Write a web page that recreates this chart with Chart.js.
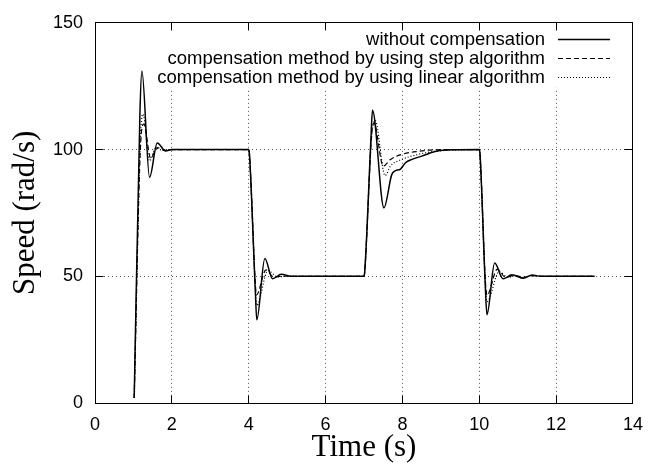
<!DOCTYPE html>
<html>
<head>
<meta charset="utf-8">
<script src="https://cdn.jsdelivr.net/npm/chart.js@4.4.0/dist/chart.umd.min.js"></script>
<style>
  html, body { margin: 0; padding: 0; background: #fff; }
  canvas { display: block; }
</style>
</head>
<body>
<canvas id="speedChart" width="654" height="466"></canvas>
<script>
// values (time in s, speed in rad/s)
const tWithout = [1.02, 1.17, 1.22, 1.42, 1.62, 1.84, 2.0, 4.0, 4.02, 4.17, 4.21, 4.42, 4.62, 4.85, 5.1,
  7.0, 7.02, 7.18, 7.22, 7.52, 7.72, 7.8, 7.95, 8.08, 8.25, 8.5, 8.85, 9.3, 10.0,
  10.02, 10.16, 10.2, 10.4, 10.62, 10.85, 11.15, 11.37, 11.6, 13.0];
const vWithout = [2, 115, 131, 89, 102.6, 99.4, 100, 100, 98, 45, 32.8, 57, 49, 50.8, 50,
  50, 52, 104, 115.5, 77, 90, 91.5, 92.3, 94.8, 96.1, 97.4, 99.2, 99.9, 100,
  98, 45, 34.8, 55.2, 49, 50.6, 49.2, 50.5, 50, 50];

const tStep = [1.02, 1.18, 1.27, 1.45, 1.62, 1.8, 2.0, 4.0, 4.02, 4.17, 4.2, 4.45, 4.65, 4.9,
  7.0, 7.02, 7.2, 7.26, 7.5, 7.69, 7.99, 8.42, 8.85, 9.3, 10.0,
  10.02, 10.16, 10.2, 10.47, 10.68, 10.9, 11.15, 11.37, 11.6, 13.0];
const vStep = [2, 100, 110, 96.5, 100.8, 99.7, 100, 100, 98, 48, 42.6, 52.5, 49.7, 50,
  50, 52, 106, 110.5, 93.5, 96.1, 98.1, 99.3, 99.9, 100, 100,
  98, 48, 42.5, 52.8, 49.6, 50.3, 49.6, 50.2, 50, 50];

const tLinear = [1.02, 1.18, 1.25, 1.42, 1.58, 1.75, 2.0, 4.0, 4.02, 4.17, 4.21, 4.5, 4.75, 5.0,
  7.0, 7.02, 7.2, 7.29, 7.55, 7.69, 7.99, 8.42, 8.85, 9.3, 10.0,
  10.02, 10.16, 10.2, 10.52, 10.75, 10.95, 11.15, 11.37, 11.6, 13.0];
const vLinear = [2, 104, 114, 95.5, 100.6, 99.8, 100, 100, 98, 46, 38.5, 52.2, 49.8, 50,
  50, 52, 105, 111.5, 89.7, 93.5, 96.1, 98.1, 99.3, 99.8, 100,
  98, 46, 40, 51.8, 49.7, 50.3, 49.5, 50.3, 50, 50];

const seriesNames = ['without compensation',
  'compensation method by using step algorithm',
  'compensation method by using linear algorithm'];
const xTicks = [0, 2, 4, 6, 8, 10, 12, 14];
const yTicks = [0, 50, 100, 150];

function toPoints(ts, vs) {
  return ts.map((t, i) => ({ x: t, y: vs[i] }));
}

function align(p) {
  return Math.round(p - 0.5) + 0.5;
}

// gnuplot style frame, inward ticks and key
const framePlugin = {
  id: 'frame',
  beforeDatasetsDraw(chart) {
    const { ctx, chartArea: a } = chart;
    ctx.save();
    ctx.fillStyle = '#fff';
    ctx.fillRect(a.left + 64, a.top + 1, a.right - a.left - 76, 64);
    ctx.restore();
  },
  afterDraw(chart) {
    const { ctx, chartArea: a, scales } = chart;
    const L = align(a.left), R = align(a.right), T = align(a.top), B = align(a.bottom);
    ctx.save();
    ctx.strokeStyle = '#000';
    ctx.lineWidth = 1;
    ctx.setLineDash([]);
    ctx.beginPath();
    xTicks.forEach(v => {
      const px = align(scales.x.getPixelForValue(v));
      ctx.moveTo(px, B); ctx.lineTo(px, B - 8);
      ctx.moveTo(px, T); ctx.lineTo(px, T + 8);
    });
    yTicks.forEach(v => {
      const py = align(scales.y.getPixelForValue(v));
      ctx.moveTo(L, py); ctx.lineTo(L + 8, py);
      ctx.moveTo(R, py); ctx.lineTo(R - 8, py);
    });
    ctx.stroke();
    ctx.strokeRect(L, T, R - L, B - T);

    // key
    ctx.font = '18.5px "Liberation Sans", Arial, sans-serif';
    ctx.fillStyle = '#000';
    ctx.textAlign = 'right';
    ctx.textBaseline = 'middle';
    chart.data.datasets.forEach((ds, i) => {
      const y = a.top + 17 + i * 19;
      ctx.fillText(ds.label, a.right - 88, y);
      ctx.save();
      ctx.lineWidth = ds.borderWidth;
      ctx.setLineDash(ds.borderDash || []);
      ctx.beginPath();
      ctx.moveTo(a.right - 75, align(y));
      ctx.lineTo(a.right - 23, align(y));
      ctx.stroke();
      ctx.restore();
    });
    ctx.restore();
  }
};

const ctx = document.getElementById('speedChart').getContext('2d');
const speedChart = new Chart(ctx, {
  type: 'line',
  data: {
    datasets: [{
      label: seriesNames[0],
      data: toPoints(tWithout, vWithout),
      borderColor: '#000',
      borderWidth: 1.5
    }, {
      label: seriesNames[1],
      data: toPoints(tStep, vStep),
      borderColor: '#000',
      borderWidth: 1.2,
      borderDash: [5, 3]
    }, {
      label: seriesNames[2],
      data: toPoints(tLinear, vLinear),
      borderColor: '#000',
      borderWidth: 1.2,
      borderDash: [1, 2]
    }]
  },
  options: {
    responsive: false,
    animation: false,
    layout: { padding: { top: 16, right: 14, left: 0, bottom: 0 } },
    elements: {
      point: { radius: 0 },
      line: { cubicInterpolationMode: 'monotone', fill: false }
    },
    plugins: {
      legend: { display: false },
      tooltip: { enabled: false }
    },
    scales: {
      x: {
        type: 'linear',
        min: 0,
        max: 14,
        afterBuildTicks: s => { s.ticks = xTicks.map(v => ({ value: v })); },
        afterFit: s => { s.height = 63; },
        grid: { color: '#555', lineWidth: 1, drawTicks: false },
        border: { display: true, color: '#000', dash: [1, 3] },
        ticks: { color: '#000', padding: 11, maxRotation: 0, autoSkip: false,
          font: { family: '"Liberation Sans", Arial, sans-serif', size: 18 } },
        title: { display: true, text: 'Time (s)', color: '#000', padding: { top: 0, bottom: 0 },
          font: { family: '"Liberation Serif", "Times New Roman", serif', size: 31 } }
      },
      y: {
        type: 'linear',
        min: 0,
        max: 150,
        afterBuildTicks: s => { s.ticks = yTicks.map(v => ({ value: v })); },
        afterFit: s => { s.width = 95; },
        grid: { color: '#555', lineWidth: 1, drawTicks: false },
        border: { display: true, color: '#000', dash: [1, 3] },
        ticks: { color: '#000', padding: 12, autoSkip: false,
          font: { family: '"Liberation Sans", Arial, sans-serif', size: 18 } },
        title: { display: true, text: 'Speed (rad/s)', color: '#000', padding: { top: 7, bottom: 0 },
          font: { family: '"Liberation Serif", "Times New Roman", serif', size: 31 } }
      }
    }
  },
  plugins: [framePlugin]
});
</script>
</body>
</html>
